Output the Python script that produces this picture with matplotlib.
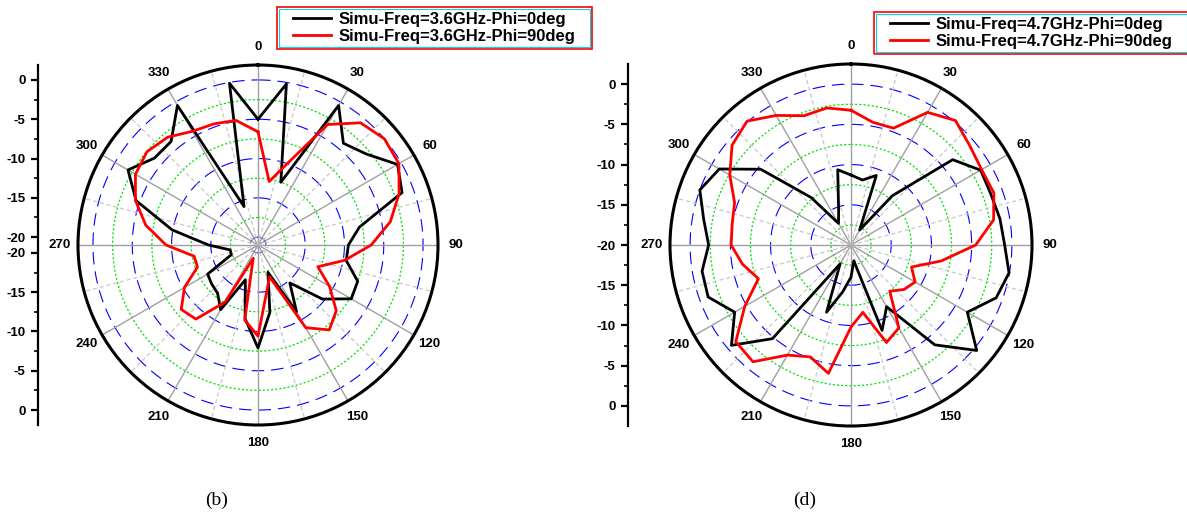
import numpy as np
import matplotlib.pyplot as plt
from matplotlib.patches import Rectangle

plt.rcParams['font.family'] = ['Liberation Sans', 'DejaVu Sans']
plt.rcParams['lines.scale_dashes'] = False

# angle in degrees, gain in dB
angles = [0, 10, 20, 30, 40, 50, 60, 70, 80, 90, 100, 110,
          120, 130, 140, 150, 160, 170, 180, 190, 200, 210, 220, 230,
          240, 250, 260, 270, 280, 290, 300, 310, 320, 330, 340, 350]

# (b) 3.6 GHz
b_phi0 = [-5.0, -0.2, -12.5, -0.5, -4.1, -3.0, -0.5, -1.5, -7.9, -9.5, -9.6, -7.5,
          -7.3, -10.3, -14.7, -11.2, -17.3, -12.3, -7.9, -11.5, -16.3, -11.5, -13.0, -13.3,
          -13.6, -17.4, -17.4, -14.7, -9.9, -4.5, -1.9, -3.8, -3.8, -0.5, -15.8, -0.1]
b_phi90 = [-6.6, -12.8, -9.9, -3.3, -0.7, 0.0, -0.3, -1.9, -3.9, -6.6, -9.8, -12.9,
           -10.5, -8.0, -6.9, -8.85, -16.7, -14.8, -9.4, -11.3, -19.2, -12.6, -8.7, -8.25,
           -10.2, -12.8, -12.75, -9.3, -6.5, -4.4, -3.0, -2.55, -3.1, -4.3, -4.6, -4.9]
b_labels = ['Simu-Freq=3.6GHz-Phi=0deg', 'Simu-Freq=3.6GHz-Phi=90deg']
b_rlim = (-21, 1.9)

# (d) 4.7 GHz
d_phi0 = [-11.3, -11.8, -10.8, -17.85, -12.0, -3.5, -1.4, -1.5, -1.2, -0.9, -0.05, -0.8,
          -3.3, 0.4, -3.8, -11.15, -8.7, -18.0, -16.0, -14.1, -11.1, -17.3, -4.8, -0.6,
          -3.3, -1.1, -1.2, -2.3, -1.4, 0.0, -1.1, -5.35, -12.3, -16.9, -15.5, -10.5]
d_phi90 = [-3.25, -4.5, -4.55, -0.96, 0.2, -0.75, -1.25, -1.1, -2.0, -4.5, -8.6, -12.0,
           -10.8, -11.4, -12.5, -8.1, -7.1, -11.5, -9.8, -3.8, -5.2, -4.2, -1.05, -1.3,
           -4.75, -7.75, -6.3, -5.1, -5.0, -4.6, -2.6, -0.7, 0.1, -1.4, -2.9, -2.7]
d_labels = ['Simu-Freq=4.7GHz-Phi=0deg', 'Simu-Freq=4.7GHz-Phi=90deg']
d_rlim = (-20, 2.5)

r_ticks = [0, -5, -10, -15, -20]
theta_ticks = [0, 30, 60, 90, 120, 150, 180, 210, 240, 270, 300, 330]

W, H = 1187, 520
fig = plt.figure(figsize=(W / 100, H / 100), dpi=100)


def panel(cx, cy, rad, rlim, phi0, phi90, labels, axis_x, leg_xy, caption, cap_x):
    box = [(cx - rad) / W, (H - cy - rad) / H, 2 * rad / W, 2 * rad / H]
    ax = fig.add_axes(box, projection='polar')
    ax.set_theta_zero_location('N')
    ax.set_theta_direction(-1)
    ax.set_rlim(*rlim)
    ax.grid(False)
    ax.set_yticks([])

    full = np.linspace(0, 2 * np.pi, 721)
    for v in r_ticks:
        if v > rlim[0]:
            ax.plot(full, np.full_like(full, v), color='#0000ff', lw=0.8,
                    ls=(0, (9, 5)), zorder=1)
    for v in np.array(r_ticks[:-1]) - 2.5:
        ax.plot(full, np.full_like(full, v), color='#00e000', lw=0.9,
                ls=(0, (1.5, 1.5)), zorder=1)
    for a in range(0, 360, 15):
        t = np.deg2rad(a)
        if a % 30 == 0:
            ax.plot([t, t], rlim, color='#a0a0a0', lw=1.0, zorder=1)
        else:
            ax.plot([t, t], rlim, color='#c8c8c8', lw=0.9, ls=(0, (3, 2)), zorder=1)

    th = np.deg2rad(angles + [angles[0]])
    ax.plot(th, phi0 + [phi0[0]], color='black', lw=2, label=labels[0], zorder=3)
    ax.plot(th, phi90 + [phi90[0]], color='red', lw=2, label=labels[1], zorder=4)

    ax.set_xticks(np.deg2rad(theta_ticks))
    ax.set_xticklabels([str(a) for a in theta_ticks], fontweight='bold', fontsize=9.5)
    ax.set_xticks(np.deg2rad(np.array(theta_ticks) + 15), minor=True)
    ax.tick_params(axis='x', which='major', direction='in', length=7, width=2, pad=6)
    ax.tick_params(axis='x', which='minor', direction='in', length=4, width=1.2)
    ax.spines['polar'].set_linewidth(2.2)
    ax.set_ylim(*rlim)

    # radial scale drawn as a separate vertical axis on the left
    R = rlim[1] - rlim[0]
    sax = fig.add_axes([axis_x / W, box[1], 0.0001, box[3]])
    sax.set_ylim(-R, R)
    pos, lab = [], []
    for v in r_ticks:
        for s in (1, -1):
            p = s * (v - rlim[0])
            if p not in pos:
                pos.append(p)
                lab.append(str(v))
    sax.set_yticks(pos)
    sax.set_yticklabels(lab, fontweight='bold', fontsize=9.5)
    mpos = []
    for v in np.array(r_ticks[:-1]) - 2.5:
        mpos += [v - rlim[0], -(v - rlim[0])]
    sax.set_yticks(mpos, minor=True)
    sax.tick_params(axis='y', which='major', direction='out', length=5, width=1.6, pad=4)
    sax.tick_params(axis='y', which='minor', direction='out', length=3, width=1.2)
    sax.set_xticks([])
    for s in ('top', 'right', 'bottom'):
        sax.spines[s].set_visible(False)
    sax.spines['left'].set_linewidth(1.6)
    sax.patch.set_visible(False)

    leg = ax.legend(loc='upper left', bbox_to_anchor=(leg_xy[0] / W, 1 - leg_xy[1] / H),
                    bbox_transform=fig.transFigure, frameon=False,
                    prop={'weight': 'bold', 'size': 12}, handlelength=2.3,
                    handletextpad=0.45, borderpad=0.3, labelspacing=0.1, borderaxespad=0)

    fig.text(cap_x / W, 1 - 500 / H, caption, family='Liberation Serif', fontsize=14,
             ha='center', va='center')
    return leg


legs = []
legs.append(panel(258, 245, 180, b_rlim, b_phi0, b_phi90, b_labels, 38, (288, 7), '(b)', 217))
legs.append(panel(851, 245, 181, d_rlim, d_phi0, d_phi90, d_labels, 628, (885, 12), '(d)', 805))

fig.canvas.draw()
for leg in legs:
    bb = leg.get_window_extent()
    fig.add_artist(Rectangle((bb.x0 - 11, bb.y0), bb.width + 22, bb.height,
                             transform=None, fill=False, ec='red', lw=1.2))
    fig.add_artist(Rectangle((bb.x0 - 9.5, bb.y0 + 1.5), bb.width + 19, bb.height - 3,
                             transform=None, fill=False, ec='#00d8e8', lw=0.8))

fig.savefig('out.png', dpi=100)
